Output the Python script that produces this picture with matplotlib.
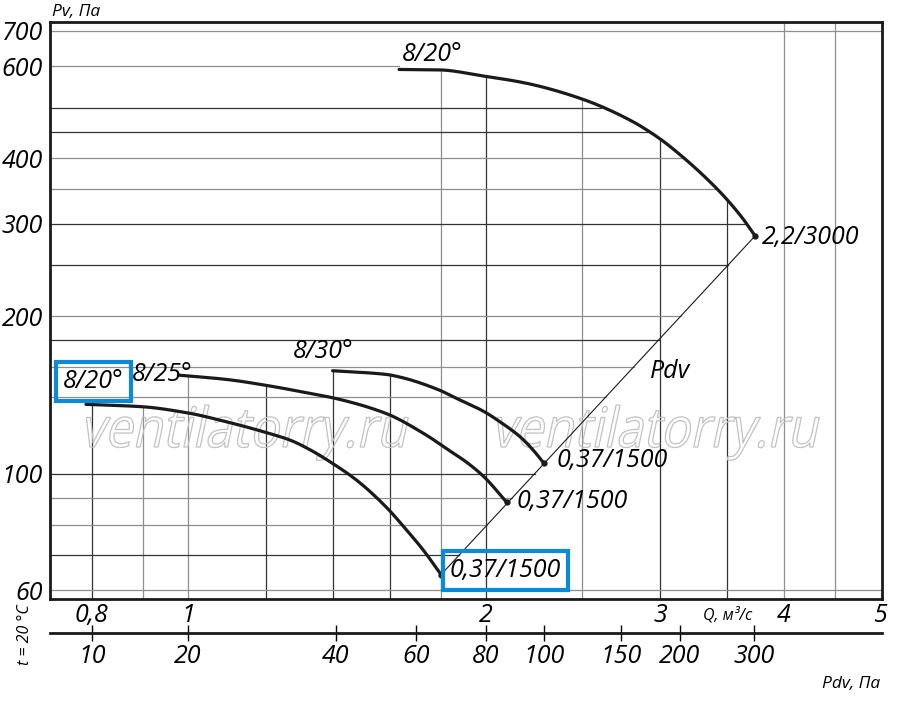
import matplotlib
matplotlib.use('Agg')
import matplotlib.pyplot as plt
import matplotlib.transforms as mtransforms
import numpy as np
from matplotlib.textpath import TextPath
from matplotlib.patches import PathPatch
from matplotlib.font_manager import FontProperties
from matplotlib.ticker import FixedLocator, FixedFormatter, NullLocator

plt.rcParams['font.family'] = ['Open Sans', 'DejaVu Sans']
plt.rcParams['font.style'] = 'italic'

# fan curves, Q in m3/s, Pv in Pa
upper_q = [1.634, 1.791, 1.991, 2.19, 2.494, 2.796, 2.991, 3.162, 3.376, 3.499, 3.634, 3.739]
upper_p = [591, 590, 574, 557, 520, 473, 437, 402, 359, 334.5, 307, 284.5]

c30_q = [1.40, 1.585, 1.637, 1.794, 1.853, 1.992, 2.066, 2.165, 2.232, 2.289]
c30_p = [157.3, 154.8, 153.0, 144.5, 140.3, 131.4, 125.7, 117.7, 111.0, 104.7]

c25_q = [0.978, 1.094, 1.205, 1.328, 1.402, 1.585, 1.729, 1.839, 1.911, 1.992, 2.098]
c25_p = [154.3, 151.4, 147.3, 142.4, 139.6, 130.4, 119.5, 110.6, 105.3, 98.6, 88.3]

c20_q = [0.789, 0.899, 0.997, 1.094, 1.205, 1.268, 1.328, 1.402, 1.480, 1.585, 1.663, 1.729, 1.803]
c20_p = [135.7, 134.3, 130.8, 125.7, 119.6, 116.0, 111.2, 104.5, 97.3, 86.5, 78.1, 71.5, 64.1]

# dynamic pressure line
pdv_q = [1.80, 3.74]
pdv_p = [64.1, 284.5]

# axes
q_ticks = [0.8, 1, 2, 3, 4, 5]
q_tick_labels = ['0,8', '1', '2', '3', '4', '5']
p_ticks = [60, 100, 200, 300, 400, 600, 700]
p_tick_labels = ['60', '100', '200', '300', '400', '600', '700']
grid_q = [0.8, 0.9, 1.0, 1.2, 1.4, 1.6, 1.8, 2.0, 2.5, 3.0, 3.5, 4.0, 4.5]
grid_p = [60, 70, 80, 90, 100, 140, 160, 180, 200, 250, 300, 350, 400, 450, 500, 600, 700]
pdv_tick_labels = ['10', '20', '40', '60', '80', '100', '150', '200', '300']
pdv_tick_q = [0.8, 1.0, 1.41, 1.70, 2.0, 2.29, 2.74, 3.14, 3.73]

dark_q = {0.8, 1.2, 1.4, 1.6, 2.0, 3.0, 3.5}
dark_p = {70, 100, 180, 250, 300, 450, 500}
DARK, LIGHT = '#333333', '#8e8e8e'
INK = '#1a1a1a'

W, H = 900, 702
fig = plt.figure(figsize=(W / 100, H / 100), dpi=100)
ax = fig.add_axes([50 / W, 1 - 599 / H, 832 / W, 577.3 / H])
ax.set_xscale('log')
ax.set_yscale('log')
ax.set_xlim(0.7257, 5.023)
ax.set_ylim(57.7, 729)

curves = [(upper_q, upper_p), (c30_q, c30_p), (c25_q, c25_p), (c20_q, c20_p)]


def smooth(q, p, n=200):
    # monotone cubic (pchip) through the read points in log-log space, only for drawing
    x, y = np.log10(q), np.log10(p)
    h = np.diff(x)
    d = np.diff(y) / h
    m = np.zeros_like(y)
    m[0], m[-1] = d[0], d[-1]
    for k in range(1, len(x) - 1):
        if d[k - 1] * d[k] > 0:
            w1, w2 = 2 * h[k] + h[k - 1], h[k] + 2 * h[k - 1]
            m[k] = (w1 + w2) / (w1 / d[k - 1] + w2 / d[k])
    xs = np.linspace(x[0], x[-1], n)
    i = np.clip(np.searchsorted(x, xs) - 1, 0, len(x) - 2)
    t = (xs - x[i]) / h[i]
    ys = ((2 * t ** 3 - 3 * t ** 2 + 1) * y[i] + (t ** 3 - 2 * t ** 2 + t) * h[i] * m[i]
          + (-2 * t ** 3 + 3 * t ** 2) * y[i + 1] + (t ** 3 - t ** 2) * h[i] * m[i + 1])
    return 10 ** xs, 10 ** ys


def top_at(q):
    tops = [10 ** np.interp(np.log10(q), np.log10(cq), np.log10(cp))
            for cq, cp in curves if cq[0] <= q <= cq[-1]]
    return max(tops) if tops else ax.get_ylim()[1]


def right_at(p):
    if p <= pdv_p[-1]:
        return 10 ** np.interp(np.log10(p), np.log10(pdv_p), np.log10(pdv_q))
    return 10 ** np.interp(np.log10(p), np.log10(upper_p[::-1]), np.log10(upper_q[::-1]))


# grid, cut at the curves
for q in grid_q:
    ax.plot([q, q], [ax.get_ylim()[0], top_at(q)], color=DARK if q in dark_q else LIGHT,
            lw=0.9, zorder=1)
for p in grid_p:
    xr = ax.get_xlim()[1] if p in (grid_p[0], grid_p[-1]) else right_at(p)
    ax.plot([ax.get_xlim()[0], xr], [p, p], color=DARK if p in dark_p else LIGHT,
            lw=0.9, zorder=1)

for cq, cp in curves:
    sq, sp = smooth(cq, cp)
    ax.plot(sq, sp, color=INK, lw=2.3, solid_capstyle='round', zorder=3)
    ax.plot(cq[-1], cp[-1], 'o', ms=3.5, color=INK, zorder=3)
ax.plot(pdv_q, pdv_p, color=INK, lw=0.8, zorder=2)

# labels on the curves
fs = 18
ax.text(1.645, 632, '8/20°', fontsize=fs, ha='left', va='center')
ax.text(3.80, 283, '2,2/3000', fontsize=fs, ha='left', va='center')
ax.text(1.277, 170.8, '8/30°', fontsize=fs, ha='left', va='center')
ax.text(0.877, 155, '8/25°', fontsize=fs, ha='left', va='center')
ax.text(0.748, 150.3, '8/20°', fontsize=fs, ha='left', va='center',
        bbox=dict(boxstyle='square,pad=0.28', fc='none', ec='#0a8ad8', lw=3))
ax.text(2.357, 106.2, '0,37/1500', fontsize=fs, ha='left', va='center')
ax.text(2.147, 88.4, '0,37/1500', fontsize=fs, ha='left', va='center')
ax.text(1.839, 65.5, '0,37/1500', fontsize=fs, ha='left', va='center',
        bbox=dict(boxstyle='square,pad=0.28', fc='none', ec='#0a8ad8', lw=3))
ax.text(2.929, 157, 'Pdv', fontsize=fs, ha='left', va='center')

# ticks
ax.xaxis.set_major_locator(FixedLocator(q_ticks))
ax.xaxis.set_major_formatter(FixedFormatter(q_tick_labels))
ax.xaxis.set_minor_locator(NullLocator())
ax.yaxis.set_major_locator(FixedLocator(p_ticks))
ax.yaxis.set_major_formatter(FixedFormatter(p_tick_labels))
ax.yaxis.set_minor_locator(NullLocator())
ax.tick_params(axis='x', length=0, pad=3, labelsize=fs)
ax.tick_params(axis='y', length=0, pad=5, labelsize=fs)
for s in ax.spines.values():
    s.set_linewidth(2.0)
    s.set_color(INK)
ax.text(3.51, -0.028, 'Q, м³/с', fontsize=11.5, ha='center', va='center',
        transform=ax.get_xaxis_transform())

# Pdv scale under the plot
ax2 = fig.add_axes([50 / W, 1 - 632.7 / H, 832 / W, 0.0001])
ax2.set_xscale('log')
ax2.set_xlim(ax.get_xlim())
ax2.set_yticks([])
ax2.patch.set_visible(False)
for s in ['top', 'left', 'right']:
    ax2.spines[s].set_visible(False)
ax2.spines['bottom'].set_linewidth(2.0)
ax2.spines['bottom'].set_color(INK)
ax2.xaxis.set_major_locator(FixedLocator(pdv_tick_q))
ax2.xaxis.set_major_formatter(FixedFormatter(pdv_tick_labels))
ax2.xaxis.set_minor_locator(NullLocator())
ax2.tick_params(axis='x', direction='inout', length=12, width=1, pad=2, labelsize=fs)

fig.text(52 / W, 1 - 12 / H, 'Pv, Па', fontsize=12.5, ha='left', va='center')
fig.text(851 / W, 1 - 684 / H, 'Pdv, Па', fontsize=12.5, ha='center', va='center')
fig.text(25 / W, 1 - 635 / H, 't = 20 °C', fontsize=11.5, ha='center', va='center', rotation=90)

# watermark
tp = TextPath((0, 0), 'ventilatorry.ru', size=100, prop=FontProperties(family='Open Sans', style='normal'))
ext = tp.get_extents()
sx = 322 / ext.width
sy = 42 / ext.y1
for x0 in (80, 491):
    tr = (mtransforms.Affine2D().translate(-ext.x0, 0).scale(sx, sy)
          .skew_deg(12, 0).translate(x0, H - 447))
    ax.add_artist(PathPatch(tp, transform=tr, fc='none', ec='#c2c2c2', lw=0.9, zorder=1.5))

fig.savefig('out.png', dpi=100)
